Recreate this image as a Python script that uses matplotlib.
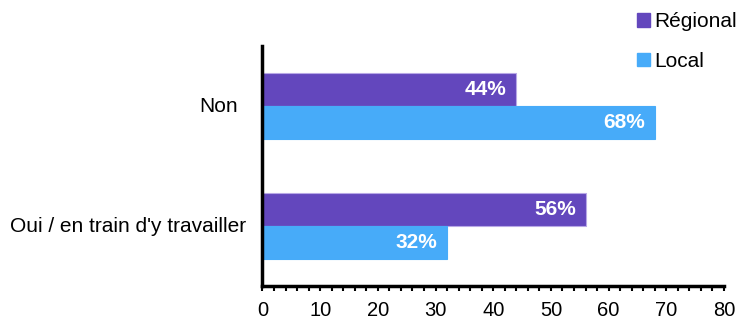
import matplotlib.pyplot as plt
from matplotlib.patches import Patch
from matplotlib.ticker import MultipleLocator

plt.rcParams['font.family'] = ['Liberation Sans', 'DejaVu Sans']

categories = ["Oui / en train d'y travailler", "Non"]
regional = [56, 44]
local = [32, 68]
series_names = ["Régional", "Local"]
colors = ["#6347BD", "#47ABF9"]

fig = plt.figure(figsize=(7.39, 3.2), dpi=100)
ax = fig.add_axes([0.3552, 0.106, 0.6245, 0.75])

h = 0.275
ypos = list(range(len(categories)))
b1 = ax.barh([y + h / 2 for y in ypos], regional, height=h, color=colors[0],
             edgecolor="#B8A8E6", linewidth=0.8)
b2 = ax.barh([y - h / 2 for y in ypos], local, height=h, color=colors[1],
             edgecolor=colors[1], linewidth=0.8)

for bars in (b1, b2):
    for rect, v in zip(bars, bars.datavalues):
        ax.annotate(f"{int(v)}%", (rect.get_width(), rect.get_y() + rect.get_height() / 2),
                    xytext=(-7, 0), textcoords="offset points", ha="right", va="center",
                    color="white", fontsize=15, fontweight="bold")

ax.set_xlim(0, 80)
ax.set_ylim(-0.5, 1.5)
ax.set_yticks(ypos)
ax.set_yticklabels([])
# category labels: "Non" sits a bit further from the axis in the original
label_offsets = [-12, -17.5]
for y, lab, off in zip(ypos, categories, label_offsets):
    ax.annotate(lab, (0, y), xycoords=("axes fraction", "data"), xytext=(off, 0),
                textcoords="offset points", ha="right", va="center", fontsize=15)

ax.xaxis.set_major_locator(MultipleLocator(10))
ax.xaxis.set_minor_locator(MultipleLocator(2))
ax.tick_params(axis="x", which="both", direction="out", length=3.5, width=1.5,
               labelsize=14.5, pad=7.5)
ax.tick_params(axis="y", length=0)

for s in ("top", "right"):
    ax.spines[s].set_visible(False)
ax.spines["left"].set_linewidth(2.5)
ax.spines["bottom"].set_linewidth(2.5)

handles = [Patch(color=c) for c in colors]
fig.legend(handles, series_names, loc="upper left", bbox_to_anchor=(0.862, 0.962),
           frameon=False, fontsize=15, handlelength=0.62, handleheight=0.62,
           handletextpad=0.2, labelspacing=1.0, borderpad=0, borderaxespad=0)

fig.savefig("out.png", dpi=100)
